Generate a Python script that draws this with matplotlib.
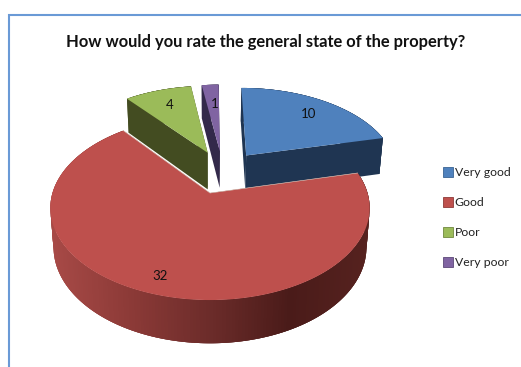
import numpy as np
import matplotlib
matplotlib.use("Agg")
import matplotlib.pyplot as plt
from matplotlib.patches import Patch, Polygon
from matplotlib.colors import to_rgb

plt.rcParams["font.family"] = ["Lato", "DejaVu Sans"]

# Survey responses
categories = ["Very good", "Good", "Poor", "Very poor"]
counts = [10, 32, 4, 1]
title = "How would you rate the general state of the property?"

top_colors = ["#4f81bd", "#be504d", "#9bbb59", "#8064a2"]
side_colors = ["#1f3552", "#4a1b19", "#434c21", "#33294a"]
label_xy = [(309, 114), (160, 276), (170, 105), (215, 104)]

# Perspective of the tilted disc, in pixels of the canvas
CX, CY = 210.0, 193.0
SCALE_X, SCALE_Y, TILT = 157.5, 89.6, 0.163
DEPTH = 38.5
BOTTOM_SHRINK = 0.98
EXPLODE = 0.26
ANCHOR_SLICE = 1   # the largest slice stays at the origin of the projection


def project(u, v, lowered=False):
    """Map disc coordinates to the canvas; lowered gives the underside."""
    w = 1 + TILT * v
    x = SCALE_X * u / w
    y = -SCALE_Y * v / w
    if lowered:
        x *= BOTTOM_SHRINK
        y += DEPTH / w ** 0.65
    return CX + x, CY + y


def mix(c1, c2, t):
    a, b = np.array(to_rgb(c1)), np.array(to_rgb(c2))
    return tuple(a + (b - a) * t)


def red_wall_color(x):
    # Shading along the rim of the big slice, darkest towards the lower right
    stops_x = [50, 130, 210, 290, 370]
    stops = ["#a84a47", "#8c3a37", "#6c2c2a", "#4a1b19", "#56221f"]
    i = int(np.clip(np.searchsorted(stops_x, x) - 1, 0, len(stops) - 2))
    t = (x - stops_x[i]) / (stops_x[i + 1] - stops_x[i])
    return mix(stops[i], stops[i + 1], float(np.clip(t, 0, 1)))


fig = plt.figure(figsize=(5.21, 3.67), dpi=100)
ax = fig.add_axes([0, 0, 1, 1])
ax.set_xlim(0, 521)
ax.set_ylim(367, 0)
ax.axis("off")

# Chart frame, open to the right and bottom
ax.plot([8.7, 8.7, 521], [367, 14.7, 14.7], color="#6a9ad6", lw=1.5,
        solid_joinstyle="miter")

ax.text(266, 41.5, title, ha="center", va="center", fontsize=11.9,
        fontweight="bold", color="#111111")

# Slice angles run clockwise from twelve o'clock
fractions = np.array(counts) / sum(counts)
edges = np.concatenate([[0], np.cumsum(fractions)]) * 2 * np.pi
mids = (edges[:-1] + edges[1:]) / 2
ref_dir = np.array([np.sin(mids[ANCHOR_SLICE]), np.cos(mids[ANCHOR_SLICE])])

slices = []
for i in range(len(counts)):
    d = np.array([np.sin(mids[i]), np.cos(mids[i])])
    off = EXPLODE * (d - ref_dir)
    slices.append((off[1], i, off))

# Painter's order: farthest slice first
for _, i, off in sorted(slices, key=lambda s: -s[0]):
    n = max(4, int((edges[i + 1] - edges[i]) / np.radians(1.0)))
    th = np.linspace(edges[i], edges[i + 1], n)
    us = off[0] + np.sin(th)
    vs = off[1] + np.cos(th)
    rim_top = np.array([project(u, v) for u, v in zip(us, vs)])
    rim_low = np.array([project(u, v, True) for u, v in zip(us, vs)])
    apex_top = project(off[0], off[1])
    apex_low = project(off[0], off[1], True)

    # Cut faces
    for k in (0, -1):
        ax.add_patch(Polygon([apex_top, rim_top[k], rim_low[k], apex_low],
                             closed=True, fc=side_colors[i], ec="none", zorder=3))
    # Outer rim from overlapping strips, so the shading has no seams
    for j in range(n - 1):
        xm = (rim_top[j, 0] + rim_top[j + 1, 0]) / 2
        col = red_wall_color(xm) if i == ANCHOR_SLICE else side_colors[i]
        e = min(j + 3, n - 1)
        ax.add_patch(Polygon(np.vstack([rim_top[j:e + 1], rim_low[j:e + 1][::-1]]),
                             closed=True, fc=col, ec="none", zorder=3))
    # Upper face
    ax.add_patch(Polygon(np.vstack([[apex_top], rim_top]), closed=True,
                         fc=top_colors[i], ec="none", zorder=3))
    # Pale hairline along the cut edges of the big slice
    if i == ANCHOR_SLICE:
        ax.plot([rim_top[0, 0], apex_top[0], rim_top[-1, 0]],
                [rim_top[0, 1], apex_top[1], rim_top[-1, 1]],
                color="#e8dcd0", lw=0.4, zorder=3)

for value, (x, y) in zip(counts, label_xy):
    ax.text(x, y, str(value), ha="center", va="center", fontsize=9.5,
            color="#111111", zorder=5)

handles = [Patch(facecolor=c, edgecolor=s, linewidth=0.6)
           for c, s in zip(top_colors, ["#3a6494", "#8f3a38", "#71893f", "#5c4878"])]
ax.legend(handles, categories, loc="upper left", bbox_to_anchor=(443 / 521, 1 - 167 / 367),
          bbox_transform=fig.transFigure, frameon=False, fontsize=8.8,
          handlelength=0.85, handleheight=0.85, handletextpad=0.12,
          labelspacing=1.55, borderpad=0, borderaxespad=0, labelcolor="#222222")

fig.savefig("out.png", dpi=100, facecolor="white")
